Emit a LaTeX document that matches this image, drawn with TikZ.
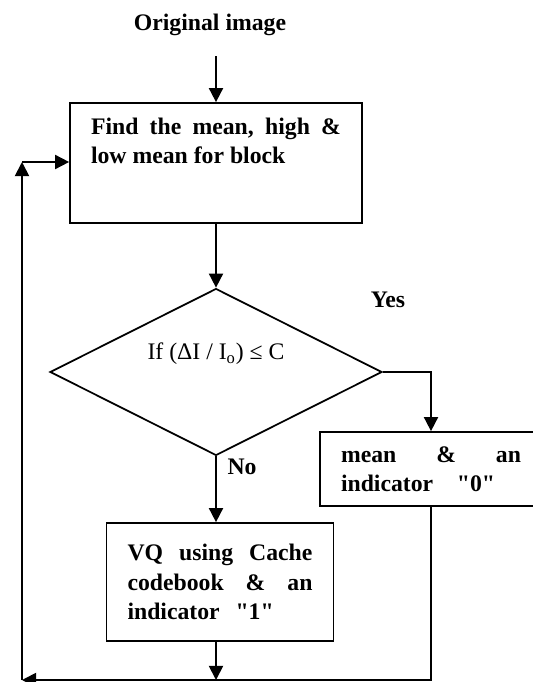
\documentclass[tikz,border=0pt]{standalone}
\usepackage{fontspec}
\setmainfont{Liberation Serif}
\newfontfamily\plainquote{Liberation Serif}
\usetikzlibrary{arrows.meta,positioning,shapes.geometric}
\newcommand{\figsize}{\fontsize{13.5}{16.8}\selectfont}
\newcommand{\dq}{{\plainquote\symbol{34}}}

\begin{document}
\begin{tikzpicture}[x=0.02cm,y=-0.02cm,font=\figsize]
		\tikzstyle{procbox}=[draw,line width=1pt,font=\figsize\bfseries,inner xsep=0.42cm]
		\tikzstyle{decision}=[draw,diamond,aspect=2,line width=1pt,inner sep=0pt,minimum width=6.64cm,minimum height=3.34cm,font=\figsize]
		\tikzstyle{tag}=[font=\figsize\bfseries]
		\tikzstyle{arrow}=[line width=1pt,-{Triangle[length=8pt,width=8pt]}]
		
		\useasboundingbox (0,0) rectangle (533,682);
		
		% Entree et premier bloc
		\node[tag,inner ysep=0.4cm] (title) at (210,25) {Original image};
		\node[procbox,inner ysep=0.3cm] (find) at (216,163) {\parbox[t][1.8cm][t]{5cm}{Find\hfill the\hfill mean,\hfill high\hfill\&\\ low mean for block}};
		\draw [arrow] (find.north |- title.south) -- (find.north);
		
		% Test
		\node[decision] (test) at (216,372) {\raisebox{0.84cm}{If (ΔI / I\textsubscript{o}) ≤ C}};
		\draw [arrow] (find.south) -- (test.north);
		\node[tag] (yes) at (388,300) {Yes};
		\node[tag] (no) at (242,467) {No};
		
		% Les deux branches
		\node[procbox,text width=3.6cm,minimum height=1.48cm] (zero) at (431,469) {mean\hfill\&\hfill an\\ indicator~~~\dq0\dq};
		\node[procbox,text width=3.7cm,minimum height=2.36cm] (vq) at (220,582) {VQ\hfill using\hfill Cache\\ codebook\hfill\&\hfill an\\ indicator~~\dq1\dq};
		\draw [arrow] (test.east) -| (zero.north);
		\draw [arrow] (test.south) -- (test.south |- vq.north);
		
		% Retour au bloc suivant
		\coordinate (bl) at (22,680);
		\coordinate (loop) at (22,162);
		\draw [arrow] (vq.south -| test.south) -- (test.south |- bl);
		\draw [arrow] (zero.south) |- (bl);
		\draw [arrow] (bl) -- (loop);
		\draw [arrow] (loop) -- (loop -| find.west);
\end{tikzpicture}
\end{document}
